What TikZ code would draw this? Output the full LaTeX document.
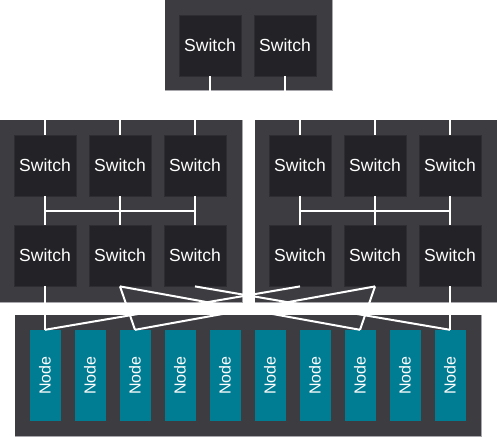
\documentclass[tikz,border=0pt]{standalone}
\usepackage{fontspec}
\setmainfont{Liberation Sans}
\begin{document}
\begin{tikzpicture}[x=1pt,y=-1pt,
  container/.style={fill=contfill,draw=none},
  edgeline/.style={draw=edgegray,line width=1pt},
  switchbox/.style={fill=swfill,draw=swborder,line width=0.8pt,minimum width=62pt,minimum height=61pt,inner sep=0pt,text=white,font=\fontsize{17.5}{20}\selectfont},
  nodebox/.style={fill=nodefill,draw=none,minimum width=31pt,minimum height=91pt,inner sep=0pt,text=white,font=\fontsize{16}{18}\selectfont},
  link/.style={draw=white,line width=2pt}]
\definecolor{contfill}{HTML}{3D3C41}
\definecolor{swfill}{HTML}{232226}
\definecolor{swborder}{HTML}{2E2D32}
\definecolor{nodefill}{HTML}{007C93}
\definecolor{edgegray}{HTML}{A8A8AC}
\useasboundingbox (0,0) rectangle (497,437);
\fill[white] (0,0) rectangle (497,437);
% containers
\fill[container] (165,0) rectangle (332,90);
\draw[edgeline] (165,90) -- (332,90) -- (332,0);
\fill[container] (0,120) rectangle (242,302);
\draw[edgeline] (0,302) -- (242,302) -- (242,120);
\fill[container] (255,120) rectangle (497,302);
\draw[edgeline] (255,302) -- (497,302);
\fill[container] (15,315) rectangle (481,436);
\draw[edgeline] (15,436) -- (481,436) -- (481,315);
% switches
\node[switchbox] (t1) at (210,45.5) {Switch};
\node[switchbox] (t2) at (285,45.5) {Switch};
\node[switchbox] (la1) at (45,165.5) {Switch};
\node[switchbox] (la2) at (120,165.5) {Switch};
\node[switchbox] (la3) at (195,165.5) {Switch};
\node[switchbox] (lb1) at (45,255.5) {Switch};
\node[switchbox] (lb2) at (120,255.5) {Switch};
\node[switchbox] (lb3) at (195,255.5) {Switch};
\node[switchbox] (ra1) at (300,165.5) {Switch};
\node[switchbox] (ra2) at (375,165.5) {Switch};
\node[switchbox] (ra3) at (450,165.5) {Switch};
\node[switchbox] (rb1) at (300,255.5) {Switch};
\node[switchbox] (rb2) at (375,255.5) {Switch};
\node[switchbox] (rb3) at (450,255.5) {Switch};
% compute nodes
\foreach \i in {1,...,10}{
  \node[nodebox] (n\i) at ({45*\i},375.5) {\rotatebox{90}{Node}};
}
% routing coordinates
\coordinate (gapT) at (0,105);
\coordinate (busL) at (0,211);
\coordinate (busR) at (0,211);
% top switches to upper switch row (routed through the white gap)
\foreach \t in {t1,t2}{
  \foreach \m in {la1,la2,la3,ra1,ra2,ra3}{
    \draw[link] (\t.south) -- (\t.south |- gapT) -| (\m.north);
  }
}
% upper row to lower row within each group
\foreach \a in {la1,la2,la3}{
  \foreach \b in {lb1,lb2,lb3}{
    \draw[link] (\a.south) -- (\a.south |- busL) -| (\b.north);
  }
}
\foreach \a in {ra1,ra2,ra3}{
  \foreach \b in {rb1,rb2,rb3}{
    \draw[link] (\a.south) -- (\a.south |- busR) -| (\b.north);
  }
}
% lower switches to compute nodes
\draw[link] (lb1.south) -- (n1.north);
\draw[link] (lb2.south) -- (n3.north);
\draw[link] (lb2.south) -- (n8.north);
\draw[link] (lb3.south) -- (n10.north);
\draw[link] (rb1.south) -- (n1.north);
\draw[link] (rb2.south) -- (n3.north);
\draw[link] (rb2.south) -- (n8.north);
\draw[link] (rb3.south) -- (n10.north);
\end{tikzpicture}
\end{document}
